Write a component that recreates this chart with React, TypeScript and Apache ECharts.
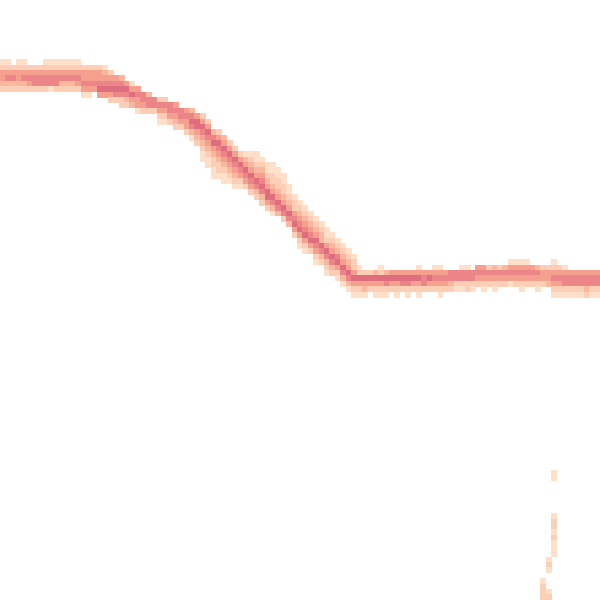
import React, { useEffect, useRef } from "react";
import * as echarts from "echarts";

// 111 x 111 density grid (columns left→right, rows top→bottom)
const GRID_SIZE = 111;
const xCategories = Array.from({ length: GRID_SIZE }, (_, i) => String(i));
const yCategories = Array.from({ length: GRID_SIZE }, (_, i) => String(i));

// first non-empty row of each column
const columnStart: number[] = [
  11, 11, 11, 11, 11, 11, 11, 11, 11, 11,
  11, 11, 11, 11, 11, 12, 12, 12, 12, 12,
  13, 14, 14, 15, 15, 16, 17, 17, 18, 18,
  18, 19, 19, 20, 20, 20, 21, 21, 22, 24,
  24, 25, 26, 27, 28, 28, 28, 28, 29, 30,
  30, 31, 32, 34, 36, 37, 38, 39, 40, 41,
  42, 43, 44, 45, 46, 47, 48, 48, 48, 48,
  48, 48, 48, 48, 48, 48, 48, 48, 48, 48,
  48, 48, 48, 48, 48, 48, 48, 48, 48, 48,
  48, 48, 48, 48, 48, 48, 48, 48, 48, 48,
  48, 48, 48, 48, 48, 48, 48, 48, 48, 48,
  48,
];

// density levels (0 = empty, 1 = lightest … 6 = darkest), one digit per row from columnStart
const columnCells: string[] = [
  "124432", "124532", "024532", "124432", "124532", "024542", "024552", "024552", "124552", "124551",
  "124552", "124532", "124532", "124532", "124542", "244541", "244541", "24454", "244564", "134564",
  "245642", "45652", "356522", "46532", "14643", "45441", "5542", "3552", "552", "25421",
  "25421", "5542", "45432", "5542", "45442", "356531", "466432", "246543211", "246543211", "356432211",
  "246543221", "346543211", "24654321", "24654321", "2465421", "1346542", "12346542", "112346532", "123456532", "112346642",
  "1122346531", "112234653", "112234652", "11234653", "12245642", "123456421", "123456421", "12345642", "123465421", "12336532",
  "112465321", "12346532", "12356421", "12346531", "12346531", "12246421", "0126421", "0026431", "0026420", "0036421",
  "0126421", "0036521", "0046420", "0046421", "0046520", "0046521", "0046420", "0146421", "0045520", "0046420",
  "0145420", "0145421", "0045420", "0055320", "0055210", "0155210", "0155220", "0055210", "0454200", "0454210",
  "0254200", "0354210", "0254200", "0354200", "1454100", "1454200", "1454210", "1454200", "0454200", "0354210",
  "0244200", "0244300", "1245421", "0245421", "0145521", "0045521", "0045521", "0045521", "0045532", "0045521",
  "0045521",
];

// thin streak near the bottom right: [column, row, level]
const streakCells: [number, number, number][] = [
  [102, 87, 1], [102, 88, 1],
  [102, 95, 1], [102, 96, 2], [102, 97, 2], [102, 98, 1], [102, 99, 2],
  [102, 100, 1], [102, 101, 1], [102, 102, 1],
  [101, 103, 1], [101, 104, 2], [101, 105, 1],
  [100, 107, 1], [100, 108, 2], [100, 109, 2], [100, 110, 2],
  [101, 109, 1], [101, 110, 2],
];

const levelColors = ["#fee0ca", "#fdceb6", "#fab79f", "#f59f8f", "#ec8587", "#de6d7e"];

export default function App() {
  const ref = useRef<HTMLDivElement>(null);

  useEffect(() => {
    if (!ref.current) return;
    const chart = echarts.init(ref.current, undefined, { renderer: "svg" });

    const data: [number, number, number][] = [];
    columnCells.forEach((cells, c) => {
      const start = columnStart[c];
      for (let i = 0; i < cells.length; i++) {
        const v = Number(cells[i]);
        if (v > 0) data.push([c, start + i, v]);
      }
    });
    streakCells.forEach((d) => data.push(d));

    chart.setOption({
      animation: false,
      backgroundColor: "#ffffff",
      grid: { left: 0, right: 0, top: 0, bottom: 0 },
      xAxis: {
        type: "category",
        data: xCategories,
        show: false,
        splitArea: { show: false },
      },
      yAxis: {
        type: "category",
        data: yCategories,
        inverse: true,
        show: false,
        splitArea: { show: false },
      },
      visualMap: {
        show: false,
        type: "continuous",
        min: 1,
        max: 6,
        dimension: 2,
        inRange: { color: levelColors },
      },
      series: [
        {
          type: "heatmap",
          data,
          itemStyle: { borderWidth: 0 },
          emphasis: { disabled: true },
        },
      ],
    });

    return () => chart.dispose();
  }, []);

  return (
    <>
      <style>{`#chart svg path, #chart svg rect { shape-rendering: crispEdges; }`}</style>
      <div
        id="chart"
        ref={ref}
        style={{ position: "fixed", left: 0, top: 0, width: 600, height: 600 }}
      />
    </>
  );
}
